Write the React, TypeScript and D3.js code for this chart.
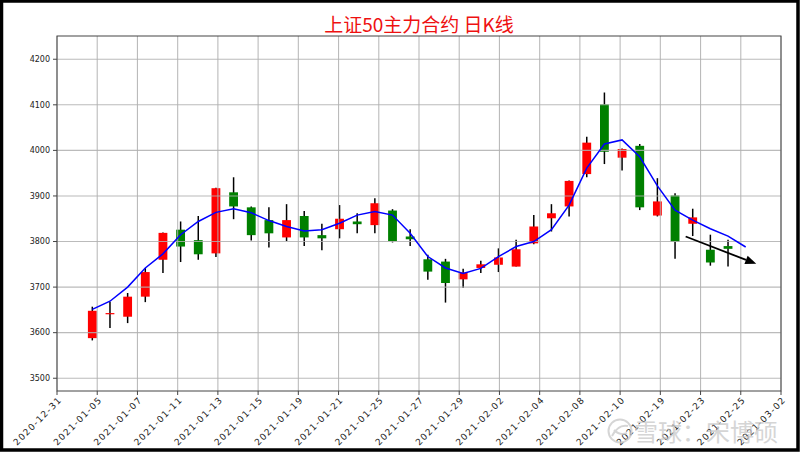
import React from "react";
import * as d3 from "d3";

const W = 800;
const H = 452;

const titleText = "上证50主力合约 日K线";

const opens = [3588, 3642, 3635, 3679, 3760, 3826, 3803, 3774, 3908, 3875, 3847, 3809, 3856, 3814, 3827, 3844, 3836, 3868, 3811, 3761, 3756, 3717, 3742, 3749, 3745, 3796, 3851, 3877, 3948, 4101, 3984, 4010, 3857, 3901, 3839, 3782, 3790];
const highs = [3657, 3668, 3687, 3742, 3820, 3844, 3856, 3918, 3941, 3877, 3875, 3882, 3867, 3839, 3880, 3862, 3895, 3871, 3827, 3771, 3762, 3740, 3758, 3785, 3804, 3858, 3882, 3934, 4030, 4127, 4004, 4014, 3939, 3906, 3872, 3815, 3804];
const lows = [3583, 3610, 3621, 3667, 3731, 3755, 3760, 3766, 3849, 3802, 3787, 3801, 3790, 3781, 3807, 3818, 3818, 3798, 3790, 3716, 3666, 3698, 3731, 3733, 3745, 3794, 3822, 3855, 3941, 3970, 3956, 3869, 3855, 3762, 3812, 3747, 3745];
const closes = [3648, 3643, 3679, 3733, 3819, 3789, 3772, 3917, 3877, 3814, 3818, 3847, 3809, 3807, 3850, 3838, 3884, 3801, 3805, 3734, 3709, 3732, 3750, 3765, 3783, 3833, 3862, 3933, 4017, 3997, 4003, 3875, 3888, 3799, 3853, 3754, 3784];

const maValues = [3651, 3669, 3700, 3742, 3773, 3815, 3844, 3864, 3872, 3863, 3846, 3833, 3823, 3826, 3840, 3858, 3866, 3858, 3818, 3767, 3742, 3730, 3741, 3767, 3789, 3800, 3826, 3880, 3961, 4014, 4023, 3986, 3922, 3869, 3847, 3828, 3812, 3788];

const xTickLabels = ["2020-12-31", "2021-01-05", "2021-01-07", "2021-01-11", "2021-01-13", "2021-01-15", "2021-01-19", "2021-01-21", "2021-01-25", "2021-01-27", "2021-01-29", "2021-02-02", "2021-02-04", "2021-02-08", "2021-02-10", "2021-02-19", "2021-02-23", "2021-02-25", "2021-03-02"];
const yTicks = [3500, 3600, 3700, 3800, 3900, 4000, 4100, 4200];

const xDomain = [-2, 39];
const yDomain = [3472, 4251];

// trend arrow annotation: [index, price] start and end
const arrowFrom = [33.6, 3811];
const arrowTo = [37.6, 3751];

const watermark = "雪球：宋博硕";

export default function App() {
  const left = 57, right = 781, top = 36, bottom = 391;
  const x = d3.scaleLinear().domain(xDomain).range([left, right]);
  const y = d3.scaleLinear().domain(yDomain).range([bottom, top]);
  const bodyW = x(0.5) - x(0);

  const tickPos = d3.range(xTickLabels.length).map(
    (k) => xDomain[0] + (k * (xDomain[1] - xDomain[0])) / (xTickLabels.length - 1)
  );

  const line = d3
    .line<number>()
    .x((_, i) => x(i))
    .y((d) => y(d))
    .curve(d3.curveLinear);

  const ax1 = x(arrowFrom[0]), ay1 = y(arrowFrom[1]);
  const ax2 = x(arrowTo[0]), ay2 = y(arrowTo[1]);
  const ang = Math.atan2(ay2 - ay1, ax2 - ax1);
  const headL = 11, headW = 4.5;
  const bx = ax2 - headL * Math.cos(ang), by = ay2 - headL * Math.sin(ang);
  const head = [
    [ax2, ay2],
    [bx + headW * Math.sin(ang), by - headW * Math.cos(ang)],
    [bx - headW * Math.sin(ang), by + headW * Math.cos(ang)],
  ];

  const gridColor = "#b0b0b0";

  return (
    <svg
      width={W}
      height={H}
      style={{ position: "absolute", left: 0, top: 0, display: "block", background: "#fff" }}
      fontFamily="DejaVu Sans, sans-serif"
    >
      <rect x={0} y={0} width={W} height={H} fill="#fff" />
      <text
        x={(left + right) / 2}
        y={32}
        textAnchor="middle"
        fontSize={19}
        fill="#ee1111"
        fontFamily="Noto Sans CJK SC, sans-serif"
      >
        {titleText}
      </text>

      {/* candles */}
      {opens.map((o, i) => {
        const c = closes[i];
        const up = c >= o;
        const color = up ? "#ff0000" : "#008000";
        const yTop = y(Math.max(o, c));
        const yBot = y(Math.min(o, c));
        const h = Math.max(yBot - yTop, 1.2);
        return (
          <g key={i}>
            <line x1={x(i)} x2={x(i)} y1={y(highs[i])} y2={y(lows[i])} stroke="#000" strokeWidth={1.5} />
            <rect x={x(i) - bodyW / 2} y={yTop} width={bodyW} height={h} fill={color} />
          </g>
        );
      })}

      {/* grid */}
      {tickPos.map((t, k) => (
        <line key={"gx" + k} x1={x(t)} x2={x(t)} y1={top} y2={bottom} stroke={gridColor} strokeWidth={1.1} opacity={0.85} />
      ))}
      {yTicks.map((v) => (
        <line key={"gy" + v} x1={left} x2={right} y1={y(v)} y2={y(v)} stroke={gridColor} strokeWidth={1.1} opacity={0.85} />
      ))}

      {/* MA line */}
      <path d={line(maValues) || ""} fill="none" stroke="#0000ff" strokeWidth={1.5} />

      {/* arrow */}
      <line x1={ax1} y1={ay1} x2={bx} y2={by} stroke="#000" strokeWidth={1.8} />
      <polygon points={head.map((p) => p.join(",")).join(" ")} fill="#000" />

      {/* spines */}
      <rect x={left} y={top} width={right - left} height={bottom - top} fill="none" stroke="#444" strokeWidth={1} />

      {/* y axis */}
      {yTicks.map((v) => (
        <g key={"yt" + v}>
          <line x1={left - 4} x2={left} y1={y(v)} y2={y(v)} stroke="#444" strokeWidth={1} />
          <text x={left - 7} y={y(v)} dy="0.35em" textAnchor="end" fontSize={8} fill="#222">
            {v}
          </text>
        </g>
      ))}

      {/* x axis */}
      {tickPos.map((t, k) => (
        <g key={"xt" + k}>
          <line x1={x(t)} x2={x(t)} y1={bottom} y2={bottom + 4} stroke="#444" strokeWidth={1} />
          <text
            transform={`translate(${x(t) + 1},${bottom + 5}) rotate(-45)`}
            textAnchor="end"
            dy="0.7em"
            fontSize={9}
            letterSpacing={1.2}
            fill="#222"
          >
            {xTickLabels[k]}
          </text>
        </g>
      ))}

      {/* watermark */}
      <g opacity={0.75}>
        <circle cx={620} cy={431} r={11.5} fill="none" stroke="#c8c8c8" strokeWidth={2} />
        <path d="M612,436 Q618,424 628,426 M614,430 Q620,436 627,433" fill="none" stroke="#c8c8c8" strokeWidth={2} />
        <text x={634} y={441} fontSize={24} fill="#c8c8c8" fontFamily="Noto Sans CJK SC, sans-serif">
          {watermark}
        </text>
      </g>

      {/* outer frame */}
      <rect x={1.5} y={1} width={W - 3.5} height={H - 3} fill="none" stroke="#000" strokeWidth={3.5} />
    </svg>
  );
}
